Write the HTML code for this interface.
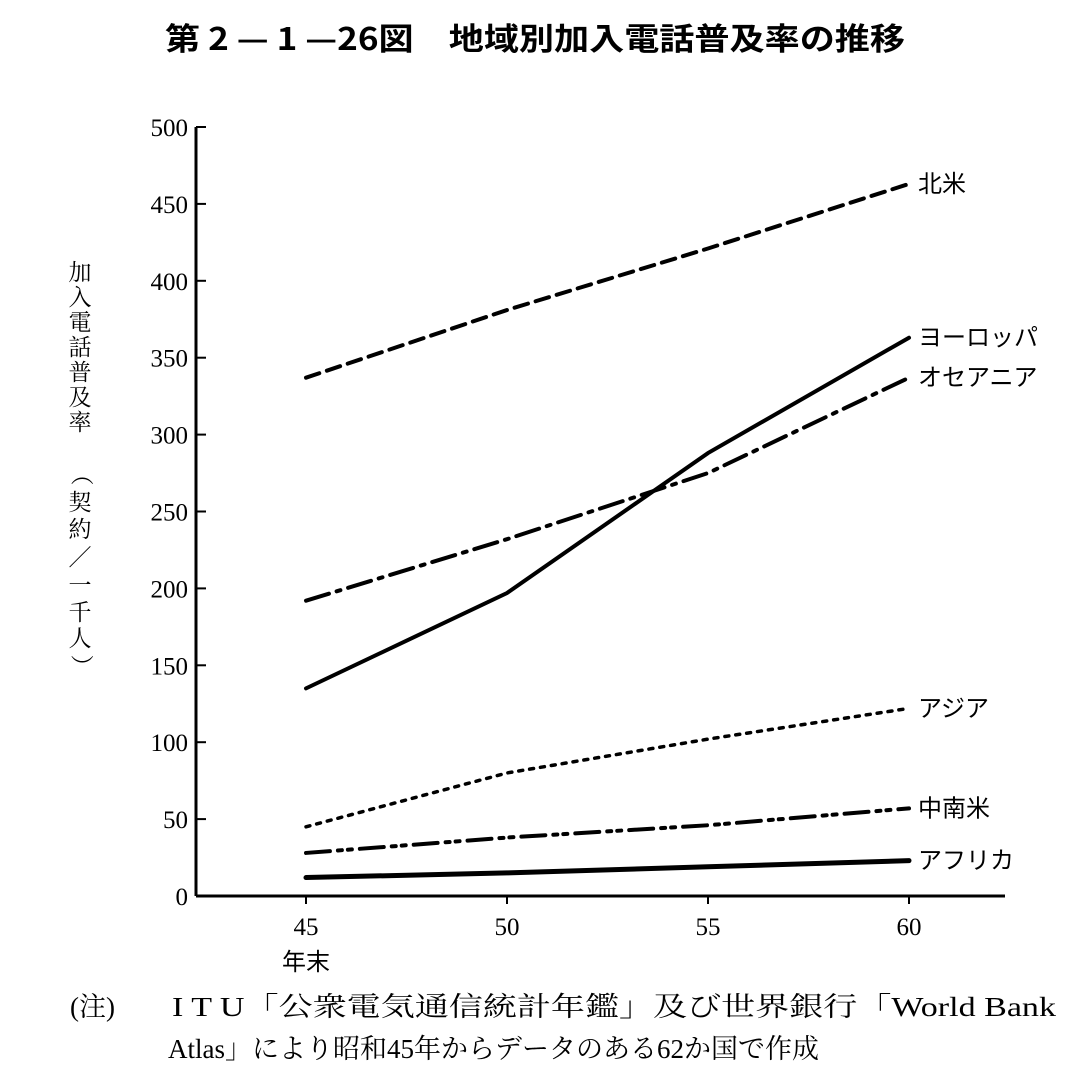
<!DOCTYPE html>
<html><head><meta charset="utf-8"><style>
body{margin:0;background:#fff;}
svg text{font-family:"Liberation Serif","Noto Serif CJK SC","Noto Sans CJK JP",serif;fill:#000;}
</style></head><body>
<svg width="1089" height="1085" viewBox="0 0 1089 1085" xmlns="http://www.w3.org/2000/svg">
<text x="165" y="50" textLength="740" lengthAdjust="spacingAndGlyphs" font-size="31" font-weight="bold" style="font-family:'Noto Sans CJK JP',sans-serif">第 2 — 1 —26図　地域別加入電話普及率の推移</text>
<g font-size="23" style="font-family:'Noto Sans CJK JP',sans-serif">
<text x="80" y="280" text-anchor="middle">加</text><text x="80" y="305" text-anchor="middle">入</text><text x="80" y="330" text-anchor="middle">電</text><text x="80" y="355" text-anchor="middle">話</text><text x="80" y="380" text-anchor="middle">普</text><text x="80" y="405" text-anchor="middle">及</text><text x="80" y="430" text-anchor="middle">率</text>
<text x="80" y="480" text-anchor="middle" transform="rotate(90 80 474)">（</text>
<text x="80" y="510" text-anchor="middle">契</text><text x="80" y="537" text-anchor="middle">約</text><text x="80" y="565" text-anchor="middle">／</text><text x="80" y="593" text-anchor="middle">一</text><text x="80" y="620" text-anchor="middle">千</text><text x="80" y="646" text-anchor="middle">人</text>
<text x="80" y="672" text-anchor="middle" transform="rotate(90 80 666)">）</text>
</g>
<g id="axes"></g>
<g id="series"></g>
<g font-size="27" style="font-family:'Liberation Serif','Noto Serif CJK SC',serif">
<text x="70" y="1016">(注)</text>
<text x="172" y="1016" textLength="884" lengthAdjust="spacingAndGlyphs">I T U「公衆電気通信統計年鑑」及び世界銀行「World Bank</text>
<text x="168" y="1058">Atlas」により昭和45年からデータのある62か国で作成</text>
</g>
</svg>
<script>
const years=[45,50,55,60];
const yTicks=[0,50,100,150,200,250,300,350,400,450,500];
const xTicks=[45,50,55,60];
const naValues=[337,381,421,463];
const euValues=[135,197,288,363];
const ocValues=[192,232,275,337];
const asValues=[45,80,102,122];
const laValues=[28,38,46,57];
const afValues=[12,15,19,23];
const seriesNames=["北米","ヨーロッパ","オセアニア","アジア","中南米","アフリカ"];
const NS="http://www.w3.org/2000/svg";
const X=v=>306+(v-45)*(909-306)/15;
const Y=v=>896-v*(896-127)/500;
function mk(t,a,p){const e=document.createElementNS(NS,t);for(const k in a)e.setAttribute(k,a[k]);p.appendChild(e);return e;}
const ax=document.getElementById('axes');
let l=mk('line',{x1:196,y1:Y(500),x2:196,y2:896,stroke:'#000','stroke-width':3},ax);


l=mk('line',{x1:196,y1:896,x2:1005,y2:896,stroke:'#000','stroke-width':3},ax);


yTicks.forEach(v=>{
 const t=mk('line',{x1:196,x2:206,y1:Y(v),y2:Y(v),stroke:'#000','stroke-width':2},ax);
 
 
 const tx=mk('text',{x:188,y:Y(v)+9,'text-anchor':'end','font-size':25},ax);tx.textContent=v;
 
 
});
xTicks.forEach(v=>{
 const t=mk('line',{x1:X(v),x2:X(v),y1:896,y2:904,stroke:'#000','stroke-width':2},ax);
 
 
 const tx=mk('text',{x:X(v),y:935,'text-anchor':'middle','font-size':25},ax);tx.textContent=v;
 
 
});
const nt=mk('text',{x:X(45),y:970,'text-anchor':'middle','font-size':24,style:"font-family:'Noto Sans CJK JP',sans-serif"},ax);nt.textContent='年末';


const sg=document.getElementById('series');
const all=[naValues,euValues,ocValues,asValues,laValues,afValues];
const dashes=['14 8','','24 8 4 8','4 7','24 8 4 6 4 8',''];
const widths=[4,4,4,3.5,4,5];
const ids=['north-america','europe','oceania','asia','latin-america','africa'];
all.forEach((vals,i)=>{
 const d=vals.map((v,j)=>(j?'L':'M')+X(years[j])+' '+Y(v)).join(' ');
 const p=mk('path',{d:d,fill:'none',stroke:'#000','stroke-width':widths[i],'stroke-dasharray':dashes[i],'stroke-linecap':'round'},sg);
 
 
 const tx=mk('text',{x:918,y:Y(vals[3])+8,'font-size':24,style:"font-family:'Noto Sans CJK JP',sans-serif"},sg);tx.textContent=seriesNames[i];
 
 
});
</script>
</body></html>
